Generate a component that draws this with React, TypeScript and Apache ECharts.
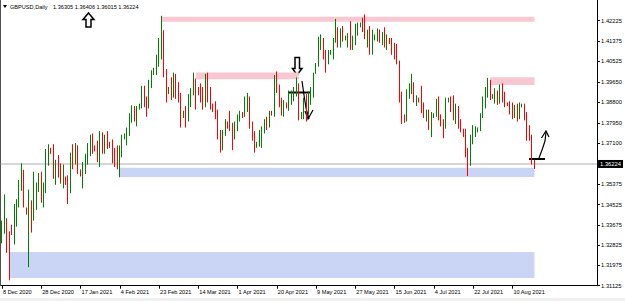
import { useEffect, useRef } from "react";
import * as echarts from "echarts";

// [open, high, low, close] per daily bar, 8 Dec 2020 .. 20 Aug 2021 (broker with Sunday bars)
const candles: [number, number, number, number][] = [
  [1.3300, 1.3385, 1.3290, 1.3370], [1.3370, 1.3495, 1.3330, 1.3380], [1.3380, 1.3395, 1.3250, 1.3265], [1.3265, 1.3340, 1.3135, 1.3225],
  [1.3355, 1.3368, 1.3325, 1.3335], [1.3335, 1.3455, 1.3285, 1.3420], [1.3420, 1.3475, 1.3360, 1.3460], [1.3460, 1.3555, 1.3440, 1.3530],
  [1.3530, 1.3625, 1.3510, 1.3590], [1.3590, 1.3598, 1.3440, 1.3505], [1.3435, 1.3440, 1.3410, 1.3418], [1.3418, 1.3515, 1.3190, 1.3450],
  [1.3450, 1.3470, 1.3335, 1.3400], [1.3400, 1.3590, 1.3385, 1.3500], [1.3500, 1.3545, 1.3430, 1.3520], [1.3520, 1.3585, 1.3505, 1.3575],
  [1.3575, 1.3590, 1.3460, 1.3470], [1.3470, 1.3545, 1.3440, 1.3510], [1.3510, 1.3685, 1.3500, 1.3665], [1.3665, 1.3705, 1.3615, 1.3675],
  [1.3680, 1.3690, 1.3665, 1.3672], [1.3672, 1.3705, 1.3560, 1.3570], [1.3570, 1.3640, 1.3535, 1.3610], [1.3610, 1.3660, 1.3565, 1.3605],
  [1.3605, 1.3625, 1.3540, 1.3560], [1.3560, 1.3620, 1.3520, 1.3565], [1.3555, 1.3570, 1.3535, 1.3545], [1.3545, 1.3575, 1.3455, 1.3520],
  [1.3520, 1.3670, 1.3500, 1.3660], [1.3660, 1.3705, 1.3600, 1.3640], [1.3640, 1.3710, 1.3620, 1.3685], [1.3685, 1.3700, 1.3580, 1.3590],
  [1.3590, 1.3600, 1.3570, 1.3578], [1.3578, 1.3630, 1.3520, 1.3595], [1.3595, 1.3665, 1.3580, 1.3640], [1.3640, 1.3710, 1.3620, 1.3665],
  [1.3665, 1.3745, 1.3655, 1.3730], [1.3730, 1.3750, 1.3665, 1.3685], [1.3690, 1.3700, 1.3675, 1.3680], [1.3680, 1.3720, 1.3630, 1.3675],
  [1.3675, 1.3760, 1.3610, 1.3740], [1.3740, 1.3755, 1.3665, 1.3700], [1.3700, 1.3745, 1.3665, 1.3730], [1.3730, 1.3760, 1.3685, 1.3705],
  [1.3705, 1.3715, 1.3690, 1.3700], [1.3700, 1.3725, 1.3625, 1.3670], [1.3670, 1.3690, 1.3610, 1.3650], [1.3665, 1.3700, 1.3600, 1.3615],
  [1.3615, 1.3700, 1.3567, 1.3680], [1.3680, 1.3745, 1.3650, 1.3730], [1.3735, 1.3750, 1.3725, 1.3745], [1.3745, 1.3775, 1.3700, 1.3760],
  [1.3755, 1.3835, 1.3740, 1.3815], [1.3815, 1.3868, 1.3795, 1.3850], [1.3850, 1.3865, 1.3800, 1.3830], [1.3830, 1.3865, 1.3780, 1.3850],
  [1.3855, 1.3875, 1.3850, 1.3868], [1.3868, 1.3950, 1.3855, 1.3920], [1.3920, 1.3950, 1.3860, 1.3880], [1.3880, 1.3905, 1.3820, 1.3875],
  [1.3875, 1.3975, 1.3855, 1.3960], [1.3960, 1.4015, 1.3940, 1.4005], [1.4005, 1.4025, 1.3995, 1.4015], [1.4015, 1.4080, 1.3995, 1.4045],
  [1.4045, 1.4150, 1.4030, 1.4135], [1.4135, 1.4243, 1.4060, 1.4150], [1.4150, 1.4183, 1.3985, 1.4000], [1.4000, 1.4020, 1.3880, 1.3925],
  [1.3930, 1.3945, 1.3915, 1.3935], [1.3935, 1.3985, 1.3890, 1.3925], [1.3925, 1.4005, 1.3900, 1.3955], [1.3955, 1.4000, 1.3895, 1.3935],
  [1.3935, 1.3965, 1.3880, 1.3900], [1.3900, 1.3920, 1.3775, 1.3830], [1.3830, 1.3845, 1.3815, 1.3845], [1.3845, 1.3865, 1.3775, 1.3810],
  [1.3810, 1.3915, 1.3800, 1.3890], [1.3890, 1.3940, 1.3860, 1.3920], [1.3920, 1.4005, 1.3910, 1.3975], [1.3975, 1.3980, 1.3850, 1.3935],
  [1.3930, 1.3945, 1.3910, 1.3920], [1.3920, 1.3960, 1.3880, 1.3910], [1.3910, 1.3945, 1.3850, 1.3880], [1.3880, 1.4000, 1.3860, 1.3960],
  [1.3960, 1.4005, 1.3880, 1.3930], [1.3930, 1.3945, 1.3850, 1.3865], [1.3870, 1.3875, 1.3840, 1.3850], [1.3860, 1.3885, 1.3810, 1.3840],
  [1.3840, 1.3850, 1.3725, 1.3750], [1.3750, 1.3765, 1.3670, 1.3695], [1.3695, 1.3765, 1.3680, 1.3755], [1.3755, 1.3810, 1.3740, 1.3790],
  [1.3790, 1.3800, 1.3770, 1.3775], [1.3780, 1.3845, 1.3760, 1.3770], [1.3770, 1.3795, 1.3680, 1.3745], [1.3745, 1.3800, 1.3725, 1.3780],
  [1.3780, 1.3830, 1.3760, 1.3820], [1.3820, 1.3845, 1.3800, 1.3835], [1.3830, 1.3840, 1.3815, 1.3825], [1.3825, 1.3905, 1.3820, 1.3885],
  [1.3885, 1.3920, 1.3840, 1.3900], [1.3900, 1.3905, 1.3770, 1.3790], [1.3790, 1.3800, 1.3720, 1.3730], [1.3730, 1.3760, 1.3670, 1.3700],
  [1.3700, 1.3715, 1.3690, 1.3705], [1.3705, 1.3765, 1.3695, 1.3745], [1.3745, 1.3780, 1.3690, 1.3770], [1.3770, 1.3810, 1.3750, 1.3795],
  [1.3795, 1.3820, 1.3765, 1.3785], [1.3785, 1.3845, 1.3775, 1.3835], [1.3835, 1.3845, 1.3825, 1.3830], [1.3830, 1.3995, 1.3820, 1.3985],
  [1.3985, 1.4010, 1.3920, 1.3935], [1.3935, 1.3955, 1.3860, 1.3880], [1.3880, 1.3900, 1.3825, 1.3835], [1.3835, 1.3890, 1.3820, 1.3870],
  [1.3870, 1.3880, 1.3855, 1.3860], [1.3860, 1.3930, 1.3845, 1.3905], [1.3905, 1.3930, 1.3870, 1.3915], [1.3915, 1.3945, 1.3885, 1.3930],
  [1.3930, 1.3985, 1.3905, 1.3950], [1.3950, 1.3960, 1.3805, 1.3820], [1.3820, 1.3840, 1.3810, 1.3835], [1.3835, 1.3900, 1.3810, 1.3880],
  [1.3880, 1.3915, 1.3800, 1.3840], [1.3840, 1.3925, 1.3830, 1.3905], [1.3905, 1.3945, 1.3870, 1.3920], [1.3920, 1.4005, 1.3900, 1.3995],
  [1.4010, 1.4045, 1.4000, 1.4040], [1.4040, 1.4155, 1.4030, 1.4135], [1.4135, 1.4165, 1.4100, 1.4140], [1.4140, 1.4150, 1.4060, 1.4090],
  [1.4090, 1.4100, 1.4005, 1.4050], [1.4050, 1.4100, 1.4040, 1.4090], [1.4090, 1.4100, 1.4080, 1.4095], [1.4095, 1.4150, 1.4060, 1.4140],
  [1.4140, 1.4230, 1.4130, 1.4185], [1.4185, 1.4195, 1.4110, 1.4125], [1.4125, 1.4190, 1.4110, 1.4180], [1.4180, 1.4200, 1.4135, 1.4150],
  [1.4150, 1.4160, 1.4140, 1.4155], [1.4145, 1.4170, 1.4110, 1.4160], [1.4160, 1.4220, 1.4100, 1.4115], [1.4115, 1.4160, 1.4100, 1.4140],
  [1.4140, 1.4210, 1.4120, 1.4200], [1.4200, 1.4215, 1.4160, 1.4210], [1.4205, 1.4215, 1.4195, 1.4215], [1.4215, 1.4235, 1.4175, 1.4190],
  [1.4190, 1.4249, 1.4145, 1.4150], [1.4150, 1.4185, 1.4110, 1.4165], [1.4165, 1.4200, 1.4080, 1.4095], [1.4095, 1.4185, 1.4080, 1.4155],
  [1.4155, 1.4165, 1.4140, 1.4160], [1.4160, 1.4190, 1.4135, 1.4180], [1.4180, 1.4185, 1.4130, 1.4155], [1.4155, 1.4175, 1.4120, 1.4165],
  [1.4165, 1.4195, 1.4110, 1.4125], [1.4125, 1.4165, 1.4100, 1.4150], [1.4145, 1.4150, 1.4125, 1.4130], [1.4130, 1.4150, 1.4080, 1.4115],
  [1.4115, 1.4130, 1.4060, 1.4095], [1.4095, 1.4125, 1.4040, 1.4050], [1.4050, 1.4055, 1.3880, 1.3910], [1.3910, 1.3925, 1.3790, 1.3805],
  [1.3815, 1.3830, 1.3795, 1.3805], [1.3805, 1.3935, 1.3800, 1.3925], [1.3925, 1.3960, 1.3895, 1.3945], [1.3945, 1.4000, 1.3915, 1.3960],
  [1.3960, 1.3965, 1.3880, 1.3880], [1.3880, 1.3910, 1.3865, 1.3895], [1.3890, 1.3900, 1.3880, 1.3885], [1.3885, 1.3950, 1.3835, 1.3870],
  [1.3870, 1.3880, 1.3815, 1.3825], [1.3825, 1.3850, 1.3800, 1.3830], [1.3830, 1.3850, 1.3765, 1.3770], [1.3770, 1.3840, 1.3735, 1.3820],
  [1.3820, 1.3835, 1.3815, 1.3830], [1.3830, 1.3895, 1.3820, 1.3885], [1.3885, 1.3905, 1.3805, 1.3820], [1.3820, 1.3830, 1.3780, 1.3795],
  [1.3795, 1.3810, 1.3730, 1.3785], [1.3785, 1.3900, 1.3770, 1.3890], [1.3890, 1.3900, 1.3880, 1.3895], [1.3895, 1.3905, 1.3840, 1.3880],
  [1.3880, 1.3910, 1.3805, 1.3820], [1.3820, 1.3875, 1.3790, 1.3860], [1.3860, 1.3865, 1.3770, 1.3790], [1.3790, 1.3810, 1.3755, 1.3760],
  [1.3760, 1.3770, 1.3735, 1.3745], [1.3745, 1.3770, 1.3650, 1.3670], [1.3670, 1.3690, 1.3572, 1.3630], [1.3630, 1.3745, 1.3615, 1.3735],
  [1.3735, 1.3785, 1.3705, 1.3760], [1.3750, 1.3780, 1.3735, 1.3765], [1.3765, 1.3775, 1.3755, 1.3770], [1.3770, 1.3835, 1.3760, 1.3825],
  [1.3825, 1.3905, 1.3815, 1.3895], [1.3895, 1.3945, 1.3855, 1.3910], [1.3910, 1.3983, 1.3900, 1.3955], [1.3955, 1.3975, 1.3890, 1.3905],
  [1.3905, 1.3915, 1.3895, 1.3910], [1.3905, 1.3940, 1.3875, 1.3920], [1.3920, 1.3930, 1.3870, 1.3890], [1.3890, 1.3955, 1.3875, 1.3925],
  [1.3925, 1.3960, 1.3880, 1.3900], [1.3900, 1.3925, 1.3860, 1.3875], [1.3875, 1.3880, 1.3865, 1.3870], [1.3870, 1.3885, 1.3830, 1.3855],
  [1.3855, 1.3880, 1.3810, 1.3825], [1.3825, 1.3870, 1.3815, 1.3860], [1.3860, 1.3875, 1.3800, 1.3815], [1.3815, 1.3880, 1.3810, 1.3870],
  [1.3865, 1.3875, 1.3860, 1.3870], [1.3870, 1.3875, 1.3805, 1.3835], [1.3835, 1.3840, 1.3720, 1.3745], [1.3745, 1.3785, 1.3720, 1.3735],
  [1.3735, 1.3745, 1.3620, 1.3630], [1.36305, 1.36406, 1.36015, 1.36224],
];

// bar index -> date label on the time axis
const dateTicks: [number, string][] = [
  [0, "8 Dec 2020"], [16, "28 Dec 2020"], [32, "17 Jan 2021"], [48, "4 Feb 2021"],
  [64, "23 Feb 2021"], [80, "14 Mar 2021"], [96, "1 Apr 2021"], [112, "20 Apr 2021"],
  [128, "9 May 2021"], [144, "27 May 2021"], [160, "15 Jun 2021"], [176, "4 Jul 2021"],
  [192, "22 Jul 2021"], [208, "10 Aug 2021"],
];

const priceTicks = [1.42225, 1.41375, 1.40525, 1.3965, 1.388, 1.3795, 1.371, 1.35375, 1.34525, 1.33675, 1.32825, 1.31975, 1.31125];

// zones: [fromBar, toBar, top price, bottom price]
const supplyZones: [number, number, number, number][] = [
  [65, 217, 1.4239, 1.4218],
  [79, 121, 1.4006, 1.3977],
  [199, 217, 1.3986, 1.3953],
];
const demandZones: [number, number, number, number][] = [
  [48, 217, 1.3607, 1.3568],
  [3, 217, 1.3254, 1.3145],
];

const SYMBOL = "GBPUSD,Daily";
const TOTAL_SLOTS = 243; // includes empty chart-shift area on the right
const Y_MIN = 1.31125;
const Y_MAX = 1.43092;

export default function App() {
  const ref = useRef<HTMLDivElement>(null);
  useEffect(() => {
    if (!ref.current) return;
    const chart = echarts.init(ref.current, null, { renderer: "svg" });
    const slots = Array.from({ length: TOTAL_SLOTS }, (_, i) => String(i));
    const tickMap = new Map<number, string>(dateTicks);
    const ohlc = candles.map(([o, h, l, c]) => [o, c, l, h]);
    const last = candles[candles.length - 1];
    const font = "'Liberation Sans', Arial, sans-serif";
    const zoneItems = (zones: [number, number, number, number][], color: string) =>
      zones.map(([a, b, top, bot]) => [
        { xAxis: a, yAxis: top, itemStyle: { color } },
        { xAxis: b, yAxis: bot },
      ]);

    chart.setOption({
      animation: false,
      backgroundColor: "#ffffff",
      grid: { left: 0, right: 27, top: 0, bottom: 15.3, containLabel: false },
      xAxis: {
        type: "category",
        data: slots,
        boundaryGap: true,
        axisLine: { show: true, lineStyle: { color: "#000", width: 1 } },
        axisTick: {
          show: true,
          interval: (i: number) => tickMap.has(i),
          alignWithLabel: true,
          length: 3,
          lineStyle: { color: "#000" },
        },
        axisLabel: {
          interval: (i: number) => tickMap.has(i),
          formatter: (_v: string, i: number) => tickMap.get(i) ?? "",
          align: "left",
          margin: 3,
          fontSize: 5.6,
          fontFamily: font,
          color: "#000",
          padding: [0, 0, 0, 1],
        },
        splitLine: { show: false },
      },
      yAxis: {
        type: "value",
        position: "right",
        min: Y_MIN,
        max: Y_MAX,
        axisLine: { show: true, lineStyle: { color: "#000", width: 1 } },
        axisTick: { show: true, length: 3, customValues: priceTicks, lineStyle: { color: "#000" } },
        axisLabel: {
          customValues: priceTicks,
          formatter: (v: number) => v.toFixed(5),
          margin: 4,
          fontSize: 5.8,
          fontFamily: font,
          color: "#000",
        },
        splitLine: { show: false },
      },
      series: [
        {
          type: "candlestick",
          data: ohlc,
          barWidth: 1,
          itemStyle: {
            color: "#008000",
            color0: "#ff0000",
            borderColor: "#008000",
            borderColor0: "#ff0000",
            borderWidth: 1,
          },
          markArea: {
            silent: true,
            data: [
              ...zoneItems(supplyZones, "rgba(247,200,210,1)"),
              ...zoneItems(demandZones, "rgba(202,213,246,1)"),
            ],
          },
          markLine: {
            silent: true,
            symbol: "none",
            precision: 5,
            z: 1,
            lineStyle: { color: "#c8c8c8", type: "solid", width: 1.5 },
            label: {
              show: true,
              position: "end",
              distance: 1,
              formatter: () => last[3].toFixed(5),
              backgroundColor: "#000",
              color: "#fff",
              fontSize: 5.8,
              fontFamily: font,
              padding: [1, 2, 1, 2],
            },
            data: [{ yAxis: last[3] }],
          },
        },
      ],
      graphic: [
        { type: "rect", shape: { x: 0, y: 298, width: 625, height: 3 }, style: { fill: "#f0f0f0" }, silent: true },
        { type: "line", shape: { x1: 0.5, y1: 0, x2: 0.5, y2: 285.7 }, style: { stroke: "#505050", lineWidth: 1 }, silent: true },
        { type: "polygon", shape: { points: [[3, 5], [7, 5], [5, 8]] }, style: { fill: "#000" }, silent: true },
        {
          type: "text", x: 10, y: 6.5, silent: true,
          style: { text: SYMBOL, fontSize: 5.6, fontFamily: font, fill: "#000", verticalAlign: "middle" },
        },
        {
          type: "text", x: 53, y: 6.5, silent: true,
          style: { text: last.map((v) => v.toFixed(5)).join(" "), fontSize: 5.6, fontFamily: font, fill: "#000", verticalAlign: "middle" },
        },
        // hollow up arrow
        {
          type: "polygon", silent: true,
          shape: { points: [[88.5, 13], [94, 19.5], [91, 19.5], [91, 27], [86, 27], [86, 19.5], [83, 19.5]] },
          style: { fill: "#fff", stroke: "#000", lineWidth: 1.5 },
        },
        // hollow down arrow
        {
          type: "polygon", silent: true,
          shape: { points: [[297, 75], [292.5, 68.5], [295, 68.5], [295, 57.5], [299.5, 57.5], [299.5, 68.5], [302, 68.5]] },
          style: { fill: "#fff", stroke: "#000", lineWidth: 1.5 },
        },
        // hand-drawn marks
        { type: "polyline", silent: true, shape: { points: [[289, 92.5], [311, 92.5]] }, style: { stroke: "#000", lineWidth: 2, fill: null } },
        { type: "polyline", silent: true, shape: { points: [[302, 81], [304, 95], [306, 108], [309, 119]] }, style: { stroke: "#000", lineWidth: 1.2, fill: null } },
        { type: "polyline", silent: true, shape: { points: [[305, 111], [308, 119], [313, 110]] }, style: { stroke: "#000", lineWidth: 1.2, fill: null } },
        { type: "polyline", silent: true, shape: { points: [[529, 159], [545, 159]] }, style: { stroke: "#000", lineWidth: 2, fill: null } },
        { type: "polyline", silent: true, shape: { points: [[539, 158], [542, 150], [545, 141], [546, 132]] }, style: { stroke: "#000", lineWidth: 1.2, fill: null } },
        { type: "polyline", silent: true, shape: { points: [[541.5, 138], [546, 131], [549, 137]] }, style: { stroke: "#000", lineWidth: 1.2, fill: null } },
      ],
    });
    return () => chart.dispose();
  }, []);

  return <div ref={ref} style={{ width: 625, height: 301, position: "absolute", left: 0, top: 0 }} />;
}
